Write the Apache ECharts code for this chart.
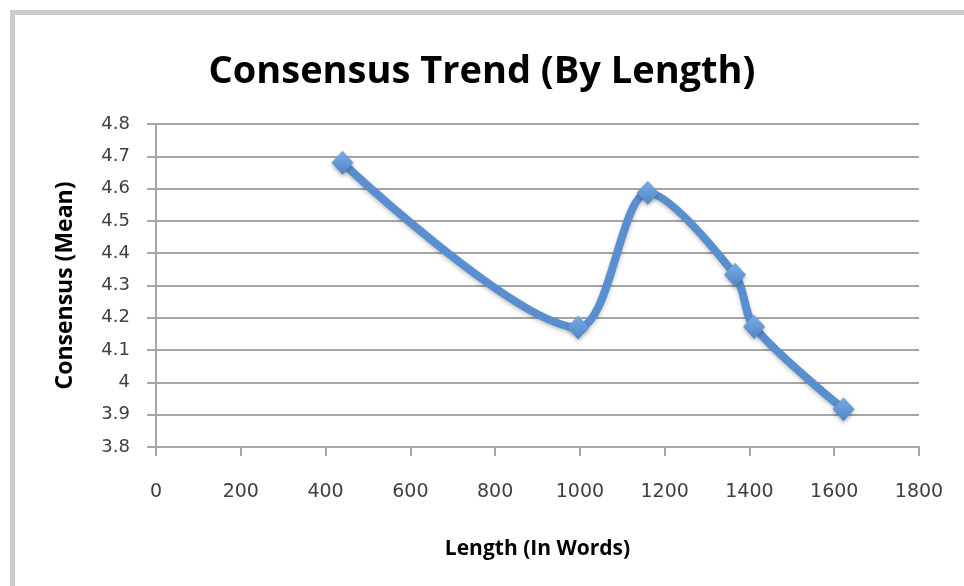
<!DOCTYPE html>
<html>
<head>
<meta charset="utf-8">
<script src="https://cdn.jsdelivr.net/npm/echarts@6/dist/echarts.min.js"></script>
<style>
html,body{margin:0;padding:0;background:#fff;}
#c{width:964px;height:586px;}
</style>
</head>
<body>
<div id="c"></div>
<script>
const lengths = [440, 996, 1160, 1366, 1411, 1622];
const consensus = [4.68, 4.17, 4.587, 4.333, 4.172, 3.917];
const xTicks = [0, 200, 400, 600, 800, 1000, 1200, 1400, 1600, 1800];
const yTicks = [3.8, 3.9, 4, 4.1, 4.2, 4.3, 4.4, 4.5, 4.6, 4.7, 4.8];
const titleText = 'Consensus Trend (By Length)';
const xName = 'Length (In Words)';
const yName = 'Consensus (Mean)';

const chart = echarts.init(document.getElementById('c'), null, {renderer: 'canvas'});
const fontFam = '"Open Sans", "DejaVu Sans", sans-serif';
chart.setOption({
  backgroundColor: '#ffffff',
  animation: false,
  graphic: [{
    type: 'rect',
    shape: {x: 12.5, y: 12.5, width: 1000, height: 1000},
    style: {fill: 'none', stroke: '#cccccc', lineWidth: 5},
    silent: true
  }],
  title: {
    text: titleText,
    left: 'center',
    top: 48,
    textStyle: {fontFamily: fontFam, fontWeight: 'bold', fontSize: 38, color: '#000000'}
  },
  grid: {left: 156, right: 45, top: 124, bottom: 139, containLabel: false},
  xAxis: {
    type: 'value',
    min: 0, max: 1800, interval: 200,
    name: xName,
    nameLocation: 'middle',
    nameGap: 92,
    nameTextStyle: {fontFamily: fontFam, fontWeight: 'bold', fontSize: 21, color: '#000000'},
    axisLine: {show: true, lineStyle: {color: '#a6a6a6', width: 2}},
    axisTick: {show: true, length: 9, inside: false, lineStyle: {color: '#a6a6a6', width: 2}},
    axisLabel: {fontFamily: '"DejaVu Sans", sans-serif', fontSize: 19, color: '#404040', margin: 36,
      formatter: v => xTicks.includes(v) ? String(v) : ''},
    splitLine: {show: false}
  },
  yAxis: {
    type: 'value',
    min: 3.8, max: 4.8, interval: 0.1,
    name: yName,
    nameLocation: 'middle',
    nameGap: 79,
    nameRotate: 90,
    nameTextStyle: {fontFamily: fontFam, fontWeight: 'bold', fontSize: 23, color: '#000000'},
    axisLine: {show: true, lineStyle: {color: '#a6a6a6', width: 2}},
    axisTick: {show: true, length: 9, inside: false, lineStyle: {color: '#a6a6a6', width: 2}},
    axisLabel: {fontFamily: '"DejaVu Sans", sans-serif', fontSize: 18, color: '#404040', margin: 26,
      formatter: v => {
        const r = Math.round(v * 10) / 10;
        return yTicks.includes(r) ? String(r) : '';
      }},
    splitLine: {show: true, lineStyle: {color: '#a6a6a6', width: 2}}
  },
  series: [{
    type: 'line',
    data: lengths.map((x, i) => [x, consensus[i]]),
    smooth: 0.3,
    symbol: 'diamond',
    symbolSize: [22, 24],
    lineStyle: {color: '#5a8fcf', width: 8,
      shadowColor: 'rgba(0,0,0,0.25)', shadowBlur: 4, shadowOffsetY: 2},
    itemStyle: {
      color: new echarts.graphic.LinearGradient(0, 0, 0, 1, [
        {offset: 0, color: '#7aabe6'},
        {offset: 1, color: '#4f86c6'}
      ]),
      borderWidth: 0,
      shadowColor: 'rgba(0,0,0,0.3)', shadowBlur: 4, shadowOffsetY: 2
    },
    z: 3
  }]
});
</script>
</body>
</html>
